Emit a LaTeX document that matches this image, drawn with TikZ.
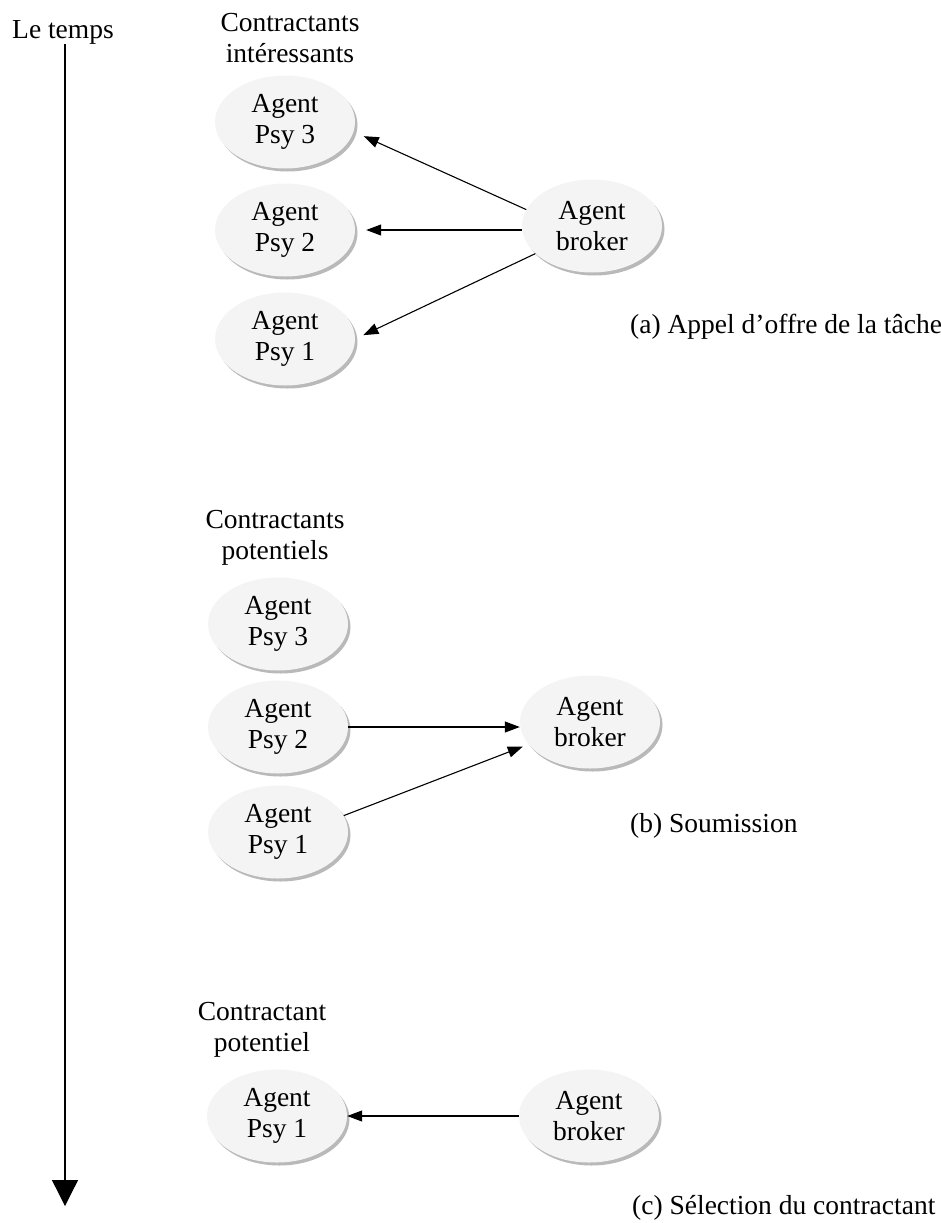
\documentclass[tikz,border=0pt]{standalone}
\usepackage{fontspec}
\setmainfont{Liberation Serif}
\usetikzlibrary{shapes.geometric,shadows,arrows.meta}

\tikzset{
  agent/.style={ellipse, fill=gray!9, minimum width=140pt, minimum height=93pt,
    inner sep=0pt, align=center,
    drop shadow={shadow xshift=2.5pt, shadow yshift=-3pt, fill=gray!55, opacity=1}},
  flow/.style={line width=1.1pt, -{Triangle[length=15pt,width=11pt]}},
  legende/.style={align=center, inner sep=0pt},
  titre/.style={anchor=west, inner sep=0pt},
}

\begin{document}
\begin{tikzpicture}[x=1pt, y=-1pt, font=\fontsize{27.5}{31.5}\selectfont]
  \useasboundingbox (0,0) rectangle (941,1223);
  % axe du temps
  \node[legende] (temps) at (63,32) {Le temps};
  \draw[line width=1.3pt, -{Triangle[length=26pt,width=26pt]}]
    (temps.south -| 65,0) coordinate (t0) -- (65,1206) coordinate (t1);

  % (a)
  \node[legende] (titreA) at (290,38) {Contractants\\intéressants};
  \node[agent] (p3) at (285,122) {Agent\\Psy 3};
  \node[agent] (p2) at (285,230) {Agent\\Psy 2};
  \node[agent] (p1) at (285,339) {Agent\\Psy 1};
  \node[agent] (bA) at (592,226) {Agent\\broker};
  \node[titre] (capA) at (630,327) {(a) Appel d’offre de la tâche};
  \draw[flow, shorten >=11pt] (bA.166) -- (p3.-8);
  \draw[flow, shorten >=11pt] (bA.west |- p2) -- (p2.east);
  \draw[flow, shorten >=9pt] (bA.206) -- (p1.east);

  % (b)
  \node[legende] (titreB) at (275,538) {Contractants\\potentiels};
  \node[agent] (q3) at (278,624) {Agent\\Psy 3};
  \node[agent] (q2) at (278,727) {Agent\\Psy 2};
  \node[agent] (q1) at (278,832) {Agent\\Psy 1};
  \node[agent] (bB) at (590,722) {Agent\\broker};
  \node[titre] (capB) at (630,826) {(b) Soumission};
  \draw[flow] (q2.east) -- (q2.east -| bB.west);
  \draw[flow, shorten >=6pt] (q1.14) -- (bB.200);

  % (c)
  \node[legende] (titreC) at (262,1030) {Contractant\\potentiel};
  \node[agent] (r1) at (277,1116) {Agent\\Psy 1};
  \node[agent] (bC) at (589,1116) {Agent\\broker};
  \node[titre] (capC) at (632,1208) {(c) Sélection du contractant};
  \draw[flow] (bC.west) -- (r1.east);
\end{tikzpicture}
\end{document}
